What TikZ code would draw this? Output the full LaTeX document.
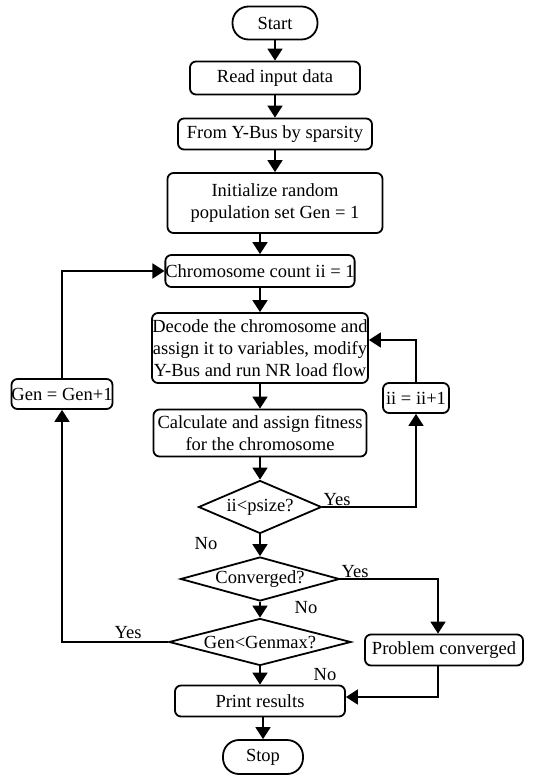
\documentclass[tikz,border=0pt]{standalone}
\usepackage{fontspec}
\setmainfont{Liberation Serif}
\usepackage{tikz}
\usetikzlibrary{arrows.meta,shapes.geometric}

\begin{document}
\begin{tikzpicture}[x=1pt,y=-1pt,
                every node/.style={font=\fontsize{18.5}{22}\selectfont},
                box/.style={draw, line width=1.8pt, rounded corners=6pt, inner sep=0pt, align=center},
                term/.style={draw, line width=1.8pt, rounded corners=16pt, inner sep=0pt},
                cond/.style={draw, diamond, line width=1.8pt, inner sep=0pt},
                flow/.style={line width=1.8pt, -{Triangle[width=15pt,length=12pt]}}]
                \useasboundingbox (0,0) rectangle (557,775);
                \node[term, minimum width=85pt, minimum height=33pt] (start) at (275,23) {Start};
                \node[box, minimum width=170pt, minimum height=33pt] (read) at (275,78) {Read input data};
                \node[box, minimum width=194pt, minimum height=31pt] (ybus) at (275,134) {From Y-Bus by sparsity};
                \node[box, minimum width=215pt, minimum height=60pt] (init) at (275,203) {Initialize random\\population set Gen = 1};
                \node[box, minimum width=188pt, minimum height=32pt] (count) at (260,271) {Chromosome count ii = 1};
                \node[box, minimum width=216pt, minimum height=70pt] (decode) at (260,348) {Decode the chromosome and\\assign it to variables, modify\\Y-Bus and run NR load flow};
                \node[box, minimum width=213pt, minimum height=47pt] (fitness) at (260,433) {Calculate and assign fitness\\for the chromosome};
                \node[cond, aspect=2.3, minimum width=123pt, minimum height=53pt] (psize) at (260,507) {ii<psize?};
                \node[cond, aspect=3.6, minimum width=159pt, minimum height=44pt] (conv) at (260,579) {Converged?};
                \node[cond, aspect=3.9, minimum width=182pt, minimum height=47pt] (genmax) at (260,642) {Gen<Genmax?};
                \node[box, minimum width=170pt, minimum height=31pt] (print) at (260,701) {Print results};
                \node[term, minimum width=80pt, minimum height=34pt] (stop) at (263,757) {Stop};
                \node[box, minimum width=101pt, minimum height=30pt] (gen) at (62,394) {Gen = Gen+1};
                \node[box, minimum width=66pt, minimum height=30pt] (inc) at (416,398) {ii = ii+1};
                \node[box, minimum width=158pt, minimum height=31pt] (solved) at (444,650) {Problem converged};
                \draw[flow] (start) -- (read);
                \draw[flow] (read) -- (ybus);
                \draw[flow] (ybus) -- (init);
                \draw[flow] (init.south -| count) -- (count);
                \draw[flow] (count) -- (decode);
                \draw[flow] (decode) -- (fitness);
                \draw[flow] (fitness) -- (psize);
                \draw[flow] (psize) -- (conv);
                \draw[flow] (conv) -- (genmax);
                \draw[flow] (genmax) -- (print);
                \draw[flow] (print.south -| stop) -- (stop);
                \draw[flow] (psize.east) -| (inc);
                \draw[flow] (inc.north) |- ([yshift=8pt]decode.east);
                \draw[flow] (genmax.west) -| (gen);
                \draw[flow] (gen.north) |- (count.west);
                \draw[flow] (conv.east) -| ([xshift=-6pt]solved.north);
                \draw[flow] ([xshift=-6pt]solved.south) |- ([yshift=4pt]print.east);
                \node[anchor=south west, inner sep=1pt] (yes1) at (psize.east) {Yes};
                \node[anchor=south west, inner sep=1pt] (yes2) at (conv.east) {Yes};
                \node[anchor=south] (yes3) at ([xshift=-40pt]genmax.west) {Yes};
                \node (no1) at (206,544) {No};
                \node (no2) at (306,608) {No};
                \node (no3) at (325,675) {No};
            \end{tikzpicture}
\end{document}
